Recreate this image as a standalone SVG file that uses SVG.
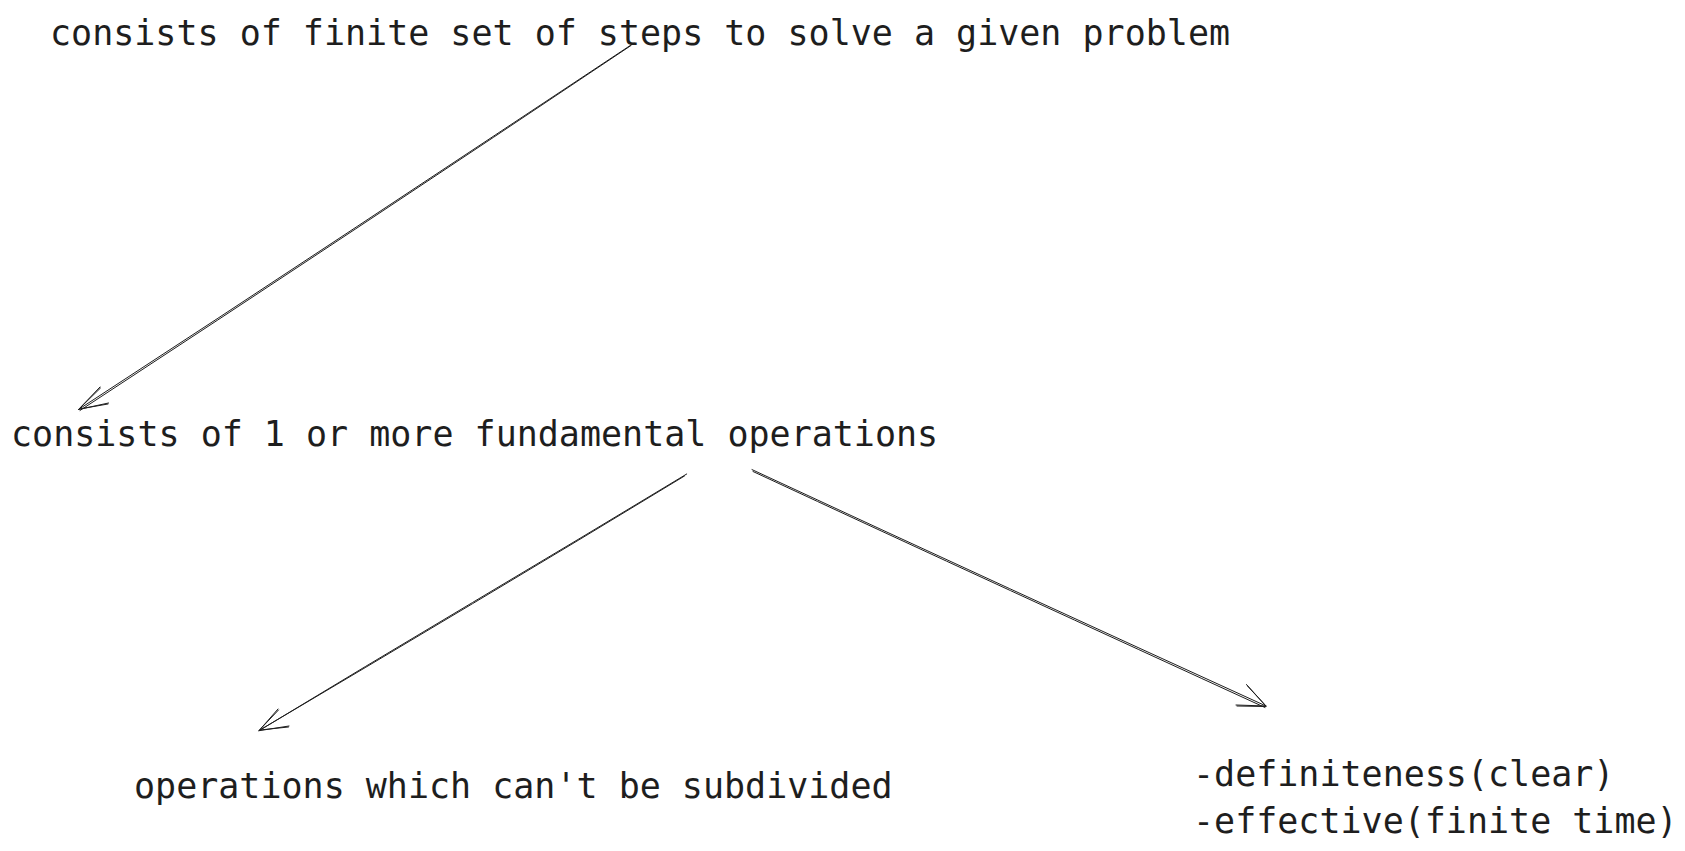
<svg xmlns="http://www.w3.org/2000/svg" width="1685" height="851" viewBox="0 0 1685 851">
<style>
text{font-family:"DejaVu Sans Mono","Liberation Mono",monospace;font-size:35px;fill:#1e1e1e}
.c path{fill:none;stroke:#1e1e1e;stroke-width:1;stroke-linecap:round;stroke-linejoin:round}
</style>
<rect width="1685" height="851" fill="#ffffff"/>
<g id="n1"><text x="50" y="45">consists of finite set of steps to solve a given problem</text></g>
<g id="n2"><text x="11" y="446">consists of 1 or more fundamental operations</text></g>
<g id="n3"><text x="134" y="798">operations which can't be subdivided</text></g>
<g id="n4"><text x="1193" y="786">-definiteness(clear)</text><text x="1193" y="833">-effective(finite time)</text></g>
<g class="c" id="connectors">
<g id="e1">
<path d="M634 43 C450 165 265 288 78.5 409.5"/>
<path d="M631 45.5 C448 168 264 290 80 410.5"/>
<path d="M78.5 409.5 L100 387 M78.5 409.5 L108.5 403"/>
<path d="M79.5 408.5 L100.5 388 M79.5 409 L108 404"/>
</g>
<g id="e2">
<path d="M686.7 474 C545 560 400 645 259 730.7"/>
<path d="M684.5 476 C544 561.5 401 646.5 260 730"/>
<path d="M259 730.7 L278 709 M259 730.7 L289 726"/>
<path d="M260 729.5 L278.5 710 M260 730 L288.5 727"/>
</g>
<g id="e3">
<path d="M752 469.6 C925 550 1095 628 1266 706"/>
<path d="M753 471.5 C926 552 1096 630 1265 707.5"/>
<path d="M1266 706 L1246.5 684.5 M1266 706 L1236 705"/>
<path d="M1265 705 L1247.5 686 M1265.5 706.5 L1237 706"/>
</g>
</g>
</svg>
